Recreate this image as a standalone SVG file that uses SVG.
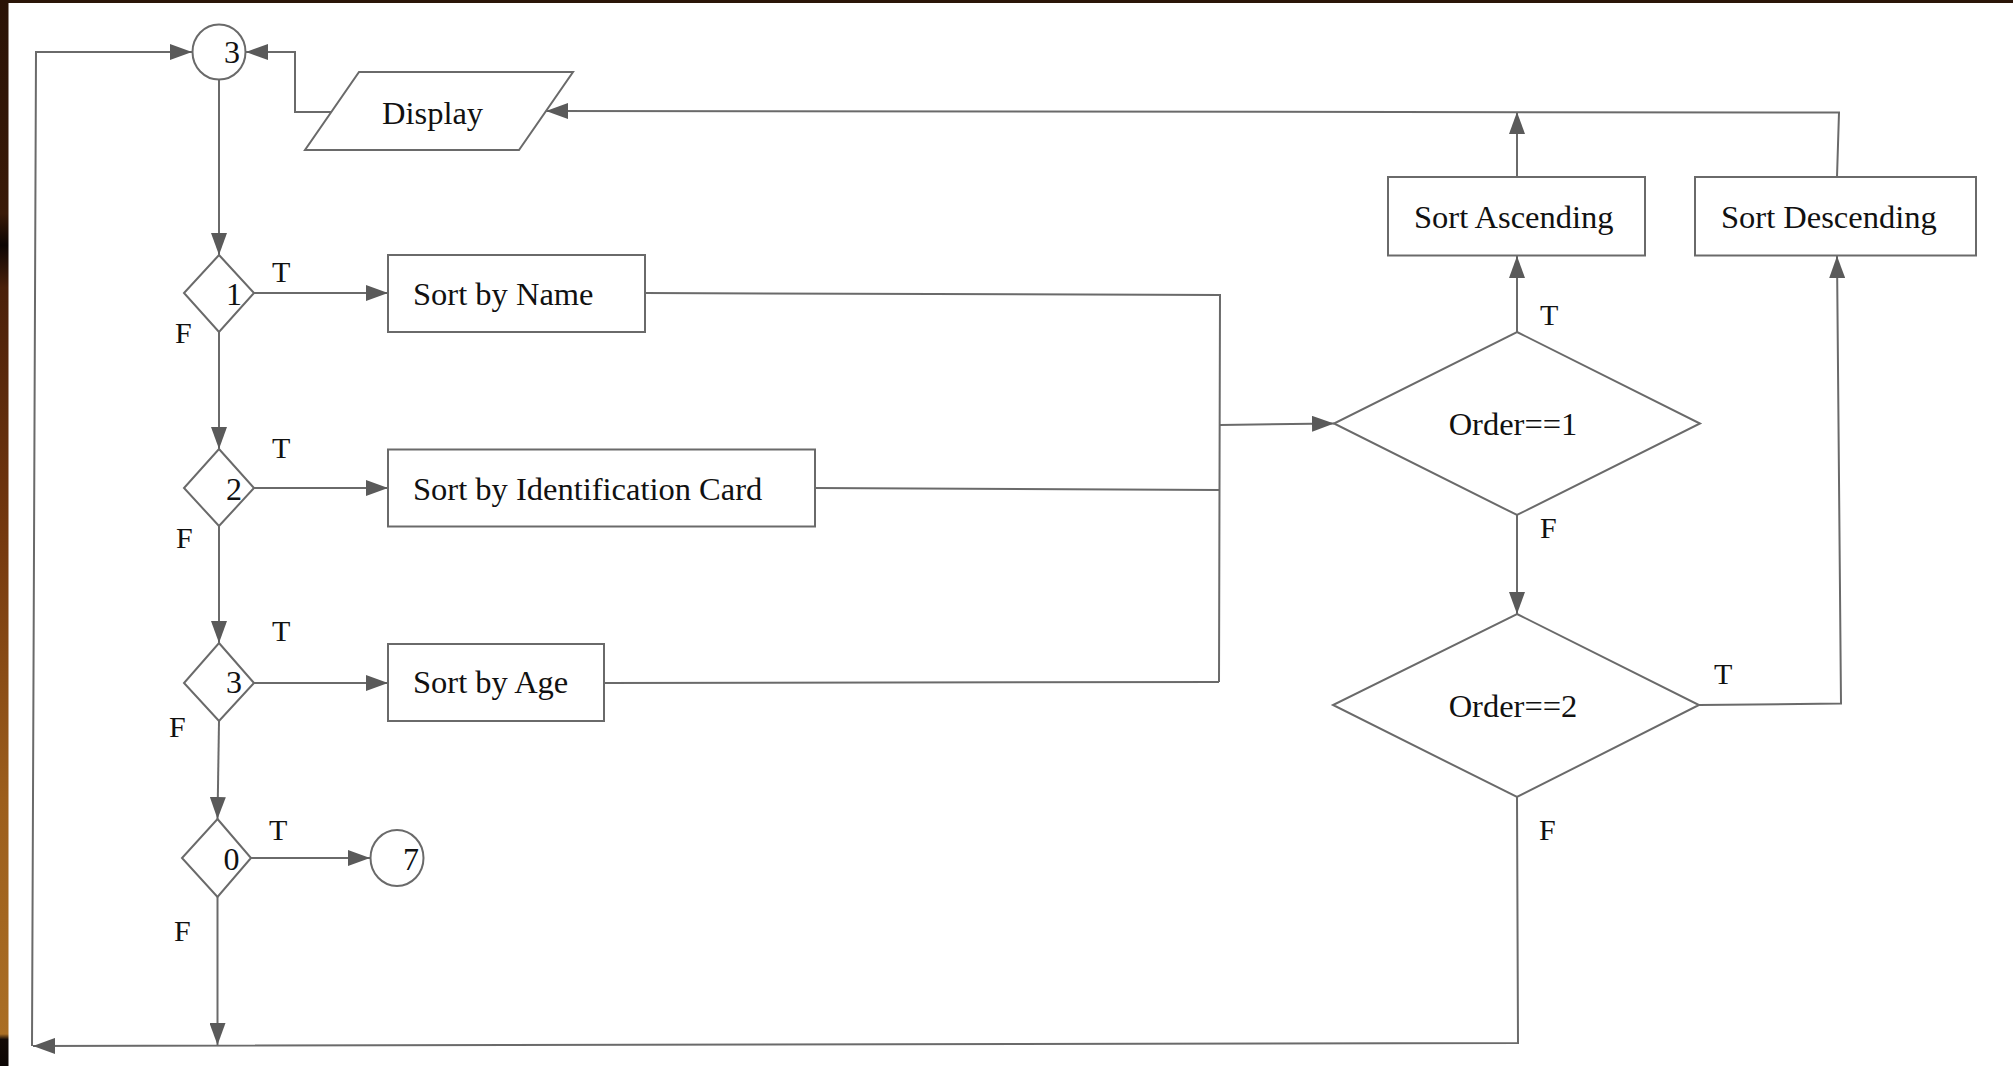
<svg xmlns="http://www.w3.org/2000/svg" width="2013" height="1066" viewBox="0 0 2013 1066">
<defs>
<linearGradient id="edge" x1="0" y1="0" x2="0" y2="1">
<stop offset="0" stop-color="#2a1306"/>
<stop offset="0.2" stop-color="#3a1a08"/>
<stop offset="0.23" stop-color="#0e0604"/>
<stop offset="0.27" stop-color="#4a200a"/>
<stop offset="0.5" stop-color="#74380f"/>
<stop offset="0.75" stop-color="#9c5e1c"/>
<stop offset="0.97" stop-color="#aa6e24"/>
<stop offset="0.975" stop-color="#140a06"/>
<stop offset="1" stop-color="#0c0604"/>
</linearGradient>
<marker id="arr" viewBox="0 0 22 16" refX="22" refY="8" markerWidth="22" markerHeight="16" markerUnits="userSpaceOnUse" orient="auto">
<path d="M0,0 L22,8 L0,16 z" fill="#5a5a5a"/>
</marker>
<style>
.sh{fill:#fff;stroke:#6a6a6a;stroke-width:2}
.ln{fill:none;stroke:#6a6a6a;stroke-width:2}
.tx{font-family:"Liberation Serif","Times New Roman",serif;font-size:32.5px;fill:#111}
.lb{font-family:"Liberation Serif","Times New Roman",serif;font-size:30px;fill:#111}
.dg{font-family:"Liberation Serif","Times New Roman",serif;font-size:32px;fill:#111;text-anchor:middle}
</style>
</defs>
<rect x="0" y="0" width="2013" height="1066" fill="#fff"/>
<rect x="0" y="0" width="2013" height="3" fill="#2a1508"/>
<rect x="0" y="0" width="8.5" height="1066" fill="url(#edge)"/>

<g id="connectors">
<path class="ln" d="M1517,797 L1518,1043 L33,1046" marker-end="url(#arr)"/>
<path class="ln" d="M32,1046 L36,52 L192,52" marker-end="url(#arr)"/>
<path class="ln" d="M331,112 L295,112 L295,52 L246,52" marker-end="url(#arr)"/>
<path class="ln" d="M219,80 L219,255" marker-end="url(#arr)"/>
<path class="ln" d="M254,293 L388,293" marker-end="url(#arr)"/>
<path class="ln" d="M219,332 L219,449" marker-end="url(#arr)"/>
<path class="ln" d="M254,488 L388,488" marker-end="url(#arr)"/>
<path class="ln" d="M219,526 L219,643" marker-end="url(#arr)"/>
<path class="ln" d="M254,683 L388,683" marker-end="url(#arr)"/>
<path class="ln" d="M219,721 L217.5,819" marker-end="url(#arr)"/>
<path class="ln" d="M251,858 L370,858" marker-end="url(#arr)"/>
<path class="ln" d="M217.5,897 L217.5,1045" marker-end="url(#arr)"/>
<path class="ln" d="M645,293 L1220,295 L1219,682"/>
<path class="ln" d="M815,488 L1220,490"/>
<path class="ln" d="M604,683 L1219,682"/>
<path class="ln" d="M1220,425 L1334,423.5" marker-end="url(#arr)"/>
<path class="ln" d="M1517,332 L1517,256" marker-end="url(#arr)"/>
<path class="ln" d="M1517,515 L1517,614" marker-end="url(#arr)"/>
<path class="ln" d="M1699,705 L1841,703.5 L1837,256" marker-end="url(#arr)"/>
<path class="ln" d="M1517,177 L1517,112" marker-end="url(#arr)"/>
<path class="ln" d="M1837,177 L1839,112.5 L546,111" marker-end="url(#arr)"/>
<text class="lb" x="272" y="282">T</text>
<text class="lb" x="175" y="343">F</text>
<text class="lb" x="272" y="458">T</text>
<text class="lb" x="176" y="548">F</text>
<text class="lb" x="272" y="641">T</text>
<text class="lb" x="169" y="737">F</text>
<text class="lb" x="269" y="840">T</text>
<text class="lb" x="174" y="941">F</text>
<text class="lb" x="1540" y="325">T</text>
<text class="lb" x="1540" y="538">F</text>
<text class="lb" x="1714" y="684">T</text>
<text class="lb" x="1539" y="840">F</text>
</g>

<g id="conn3">
<ellipse class="sh" cx="219" cy="52" rx="26.5" ry="27.5"/>
<text class="dg" x="232" y="63">3</text>
</g>
<g id="display">
<polygon class="sh" points="359,72 573,72 519,150 305,150"/>
<text class="tx" x="382" y="124">Display</text>
</g>
<g id="dec1">
<polygon class="sh" points="219,255 254,293 219,332 184,293"/>
<text class="dg" x="234" y="305">1</text>
</g>
<g id="sortName">
<rect class="sh" x="388" y="255" width="257" height="77"/>
<text class="tx" x="413" y="305">Sort by Name</text>
</g>
<g id="dec2">
<polygon class="sh" points="219,449 254,488 219,526 184,488"/>
<text class="dg" x="234" y="500">2</text>
</g>
<g id="sortId">
<rect class="sh" x="388" y="449.5" width="427" height="77"/>
<text class="tx" x="413" y="500">Sort by Identification Card</text>
</g>
<g id="dec3">
<polygon class="sh" points="219,643 254,683 219,721 184,683"/>
<text class="dg" x="234" y="693">3</text>
</g>
<g id="sortAge">
<rect class="sh" x="388" y="644" width="216" height="77"/>
<text class="tx" x="413" y="693">Sort by Age</text>
</g>
<g id="dec0">
<polygon class="sh" points="217.5,819 251,858 217.5,897 182,858"/>
<text class="dg" x="231.5" y="870">0</text>
</g>
<g id="conn7">
<ellipse class="sh" cx="397" cy="858" rx="26.5" ry="28"/>
<text class="dg" x="411" y="870">7</text>
</g>
<g id="order1">
<polygon class="sh" points="1517,332 1700,423.5 1517,515 1334,423.5"/>
<text class="tx" x="1513" y="435" text-anchor="middle">Order==1</text>
</g>
<g id="order2">
<polygon class="sh" points="1517,614 1699,705 1517,797 1333,705"/>
<text class="tx" x="1513" y="717" text-anchor="middle">Order==2</text>
</g>
<g id="sortAsc">
<rect class="sh" x="1388" y="177" width="257" height="78.5"/>
<text class="tx" x="1414" y="228">Sort Ascending</text>
</g>
<g id="sortDesc">
<rect class="sh" x="1695" y="177" width="281" height="78.5"/>
<text class="tx" x="1721" y="228">Sort Descending</text>
</g>
</svg>
